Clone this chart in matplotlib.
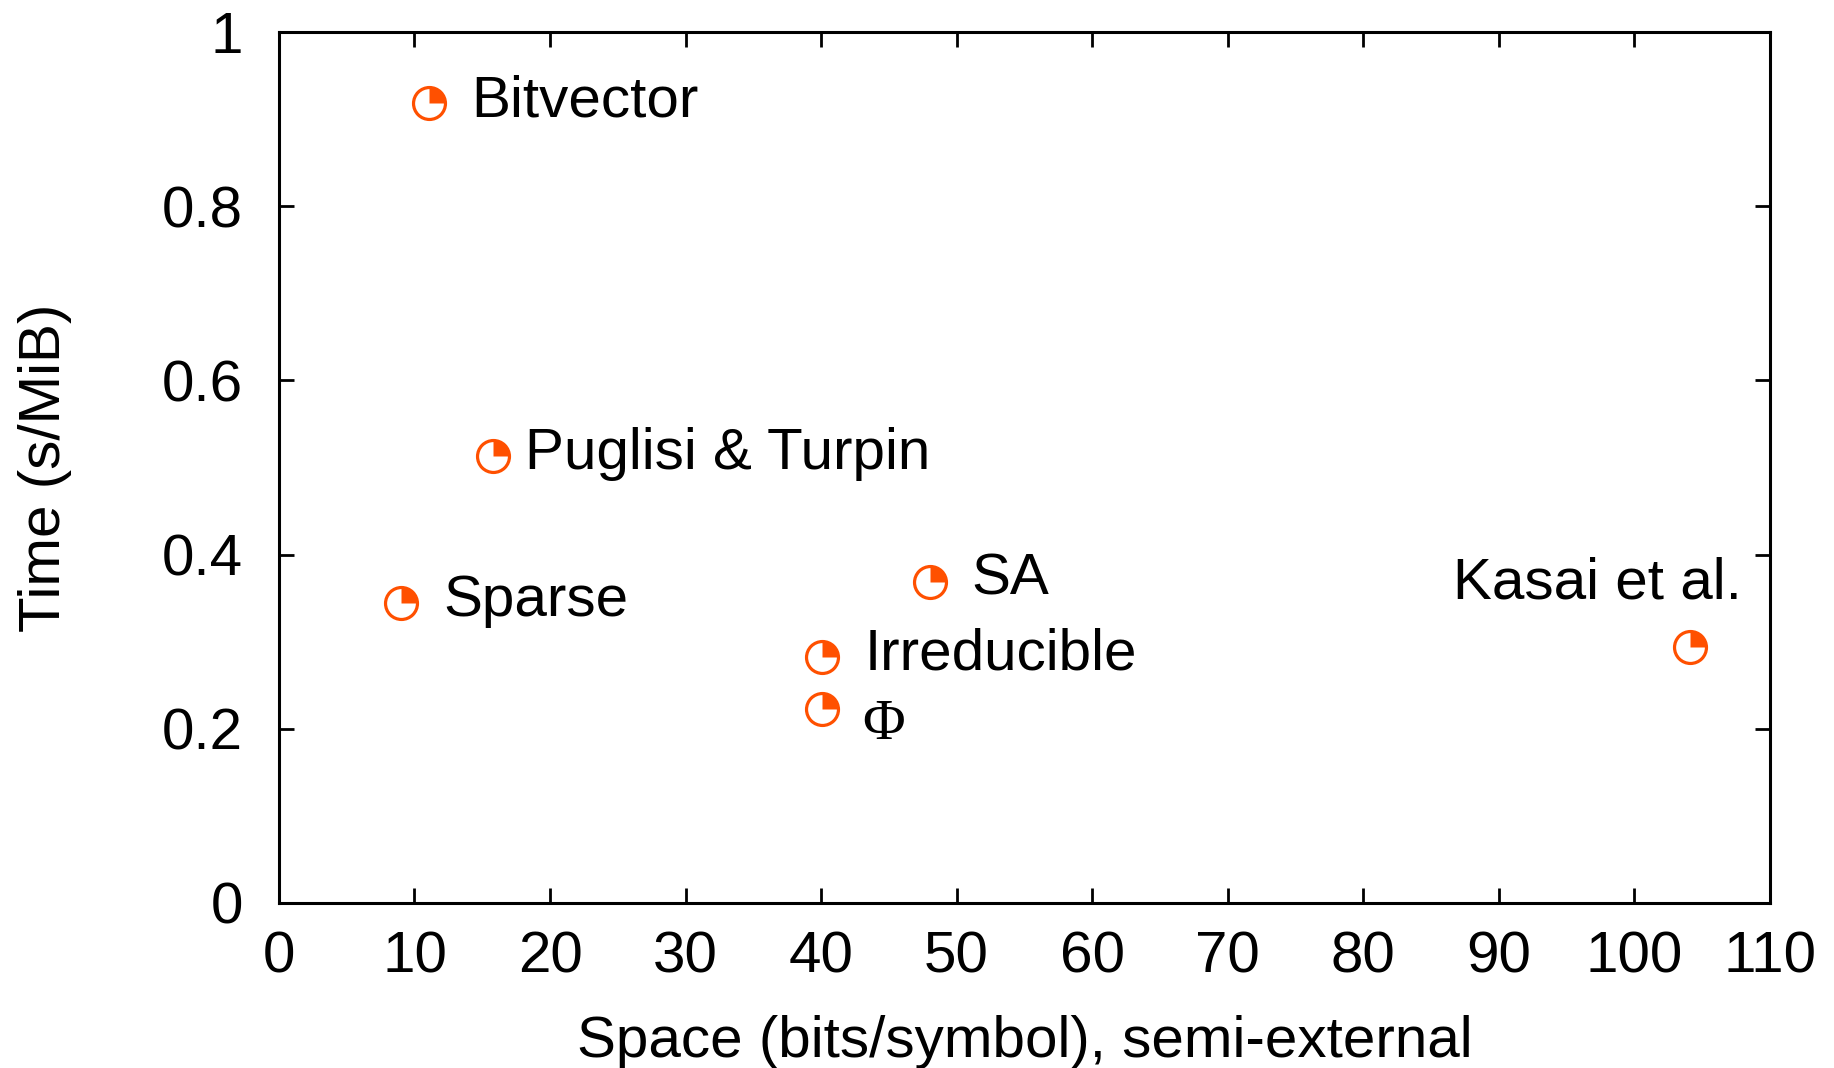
import matplotlib
matplotlib.use("Agg")
import matplotlib.pyplot as plt
from matplotlib.path import Path
import numpy as np

# space (bits/symbol) and time (s/MiB) per method
names = ["Bitvector", "Puglisi & Turpin", "Sparse", "SA", "Irreducible", "\u03a6", "Kasai et al."]
space = [11.1, 15.8, 9.0, 48.0, 40.1, 40.1, 104.1]
time = [0.918, 0.513, 0.344, 0.369, 0.283, 0.223, 0.294]

xticks = np.arange(0, 111, 10)
yticks = [0, 0.2, 0.4, 0.6, 0.8, 1]
ytick_labels = ["0", "0.2", "0.4", "0.6", "0.8", "1"]

color = "#ff5000"
fs = 42

plt.rcParams["font.family"] = ["Liberation Sans", "DejaVu Sans"]

fig = plt.figure(figsize=(18.34, 10.68), dpi=100)
ax = fig.add_axes([0.1521, 0.1545, 0.965 - 0.1521, 0.970 - 0.1545])

# circle with the upper-right quarter filled
quarter = Path.wedge(0, 90)
ax.plot(space, time, linestyle="none", marker="o", markersize=23,
        markerfacecolor="none", markeredgecolor=color, markeredgewidth=2.3, zorder=3)
ax.plot(space, time, linestyle="none", marker=quarter, markersize=23,
        markerfacecolor=color, markeredgecolor=color, markeredgewidth=0, zorder=3)

# label offsets in pixels (baseline) relative to each point
offsets = {
    "Puglisi & Turpin": ((32, -13), "left"),
    "\u03a6": ((40, -30), "left"),
    "Kasai et al.": ((52, 48), "right"),
}
for n, x, y in zip(names, space, time):
    off, ha = offsets.get(n, ((42, -13), "left"))
    fam = ["Liberation Serif", "DejaVu Serif"] if n == "\u03a6" else None
    ax.annotate(n, (x, y), xytext=off, textcoords="offset pixels",
                ha=ha, va="baseline", fontsize=fs, family=fam)

ax.set_xlim(0, 110)
ax.set_ylim(0, 1)
ax.set_xticks(xticks)
ax.set_yticks(yticks)
ax.set_yticklabels(ytick_labels)
ax.tick_params(direction="in", length=11, width=2, labelsize=fs,
               top=True, right=True)
ax.tick_params(axis="x", pad=20)
ax.tick_params(axis="y", pad=26)
for s in ax.spines.values():
    s.set_linewidth(2.2)

ax.set_xlabel("Space (bits/symbol), semi-external", fontsize=fs, va="center")
ax.xaxis.set_label_coords(0.5, -0.16)
ax.set_ylabel("Time (s/MiB)", fontsize=fs, va="center")
ax.yaxis.set_label_coords(-0.157, 0.5)

fig.savefig("out.png", dpi=100)
